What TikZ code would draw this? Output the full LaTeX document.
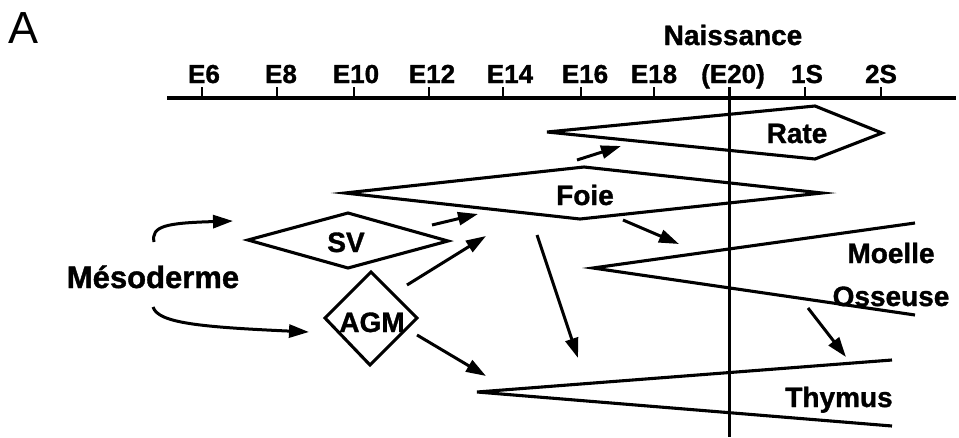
\documentclass[tikz,border=0pt]{standalone}
\usepackage{fontspec}
\setmainfont{Liberation Sans}[BoldFeatures={FakeBold=1.2}]
\usetikzlibrary{arrows.meta}
\begin{document}
\begin{tikzpicture}[x=1pt,y=-1pt,
  organ/.style={draw=black,line width=3.1pt,line join=miter},
  flow/.style={draw=black,line width=3pt,-{Triangle[length=20pt,width=13pt]}},
  lbl/.style={inner sep=0pt,anchor=base,font=\fontsize{28}{30}\selectfont\bfseries},
  ticklbl/.style={inner sep=0pt,anchor=base,font=\fontsize{26}{28}\selectfont\bfseries},
  tickmark/.style={draw=black,line width=2.8pt}]
  \useasboundingbox (0,0) rectangle (959,437);

  % panel letter
  \node[inner sep=0pt,anchor=base west,font=\fontsize{45}{48}\selectfont] (panel) at (8,43) {A};

  % time axis
  \coordinate (axL) at (167,98);
  \coordinate (axR) at (956,98);
  \draw[line width=3.4pt] (axL) -- (axR);
  \foreach \x/\lx/\t in {202/204/E6, 277/281/E8, 354/356/E10, 429/432/E12,
                         503/510/E14, 581/585/E16, 654/654/E18, 729/733/(E20),
                         805/807/1S, 881/881/2S}{
    \draw[tickmark] (\x,87) -- (\x,98);
    \node[ticklbl] at (\lx,83) {\t};
  }
  \node[lbl] (birth) at (733,45) {Naissance};

  % birth line
  \coordinate (birthTop) at (729,87);
  \coordinate (birthBot) at (729,437);
  \draw[line width=3pt] (birthTop) -- (birthBot);

  % Rate
  \coordinate (rateL) at (547,132);
  \coordinate (rateT) at (815,106);
  \coordinate (rateR) at (882,133);
  \coordinate (rateB) at (815,159);
  \draw[organ] (rateL) -- (rateT) -- (rateR) -- (rateB) -- cycle;
  \node[lbl] (rate) at (797,143) {Rate};

  % Foie
  \coordinate (foieL) at (345,193);
  \coordinate (foieT) at (584,167);
  \coordinate (foieR) at (822,193);
  \coordinate (foieB) at (580,219);
  \draw[organ] (foieL) -- (foieT) -- (foieR) -- (foieB) -- cycle;
  \node[lbl] (foie) at (585,205) {Foie};

  % SV
  \coordinate (svL) at (248,240);
  \coordinate (svT) at (348,213);
  \coordinate (svR) at (448,241);
  \coordinate (svB) at (348,268);
  \draw[organ] (svL) -- (svT) -- (svR) -- (svB) -- cycle;
  \node[lbl] (sv) at (346,252) {SV};

  % AGM
  \coordinate (agmT) at (371,272);
  \coordinate (agmL) at (325,318);
  \coordinate (agmR) at (417,318);
  \coordinate (agmB) at (370,365);
  \draw[organ] (agmT) -- (agmR) -- (agmB) -- (agmL) -- cycle;
  \node[lbl] (agm) at (372,332) {AGM};

  % Moelle osseuse
  \coordinate (moL) at (593,268);
  \coordinate (moT) at (915,223);
  \coordinate (moB) at (915,315);
  \draw[organ] (moT) -- (moL) -- (moB);
  \node[lbl] (moelle) at (891,263) {Moelle};
  \node[lbl] (osseuse) at (891,306) {Osseuse};

  % Thymus
  \coordinate (thL) at (477,392);
  \coordinate (thT) at (892,360);
  \coordinate (thB) at (892,426);
  \draw[organ] (thT) -- (thL) -- (thB);
  \node[lbl] (thymus) at (839,407) {Thymus};

  % Mesoderme
  \node[inner sep=0pt,anchor=base,font=\fontsize{31}{33}\selectfont\bfseries] (meso) at (153,288) {Mésoderme};

  % arrow end points
  \coordinate (m1s) at (154,242);  \coordinate (m1e) at (233,221);
  \coordinate (m2s) at (153,307);  \coordinate (m2e) at (309,332);
  \coordinate (sfs) at (432,225);  \coordinate (sfe) at (478,214);
  \coordinate (afs) at (407,285);  \coordinate (afe) at (486,236);
  \coordinate (ats) at (417,335);  \coordinate (ate) at (486,376);
  \coordinate (frs) at (577,160);  \coordinate (fre) at (621,146);
  \coordinate (fms) at (623,220);  \coordinate (fme) at (679,244);
  \coordinate (fts) at (537,235);  \coordinate (fte) at (578,358);
  \coordinate (mts) at (808,308);  \coordinate (mte) at (846,357);

  % migrations
  \draw[flow] (m1s) .. controls (151,226) and (166,223) .. (m1e);
  \draw[flow] (m2s) .. controls (158,323) and (200,327) .. (m2e);
  \draw[flow] (sfs) -- (sfe);
  \draw[flow] (afs) -- (afe);
  \draw[flow] (ats) -- (ate);
  \draw[flow] (frs) -- (fre);
  \draw[flow] (fms) -- (fme);
  \draw[flow] (fts) -- (fte);
  \draw[flow] (mts) -- (mte);
\end{tikzpicture}
\end{document}
